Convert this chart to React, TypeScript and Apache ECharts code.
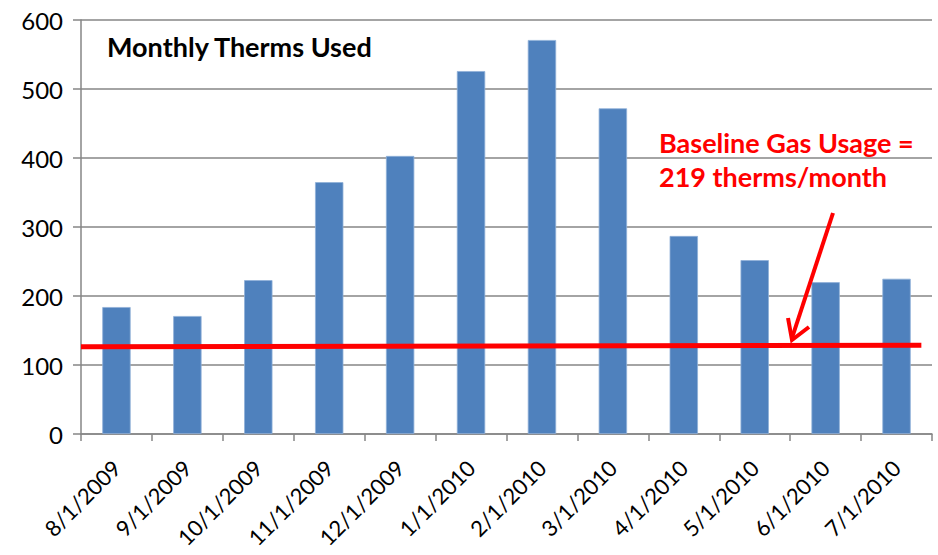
import React, { useEffect, useRef } from "react";
import * as echarts from "echarts";

const categories = [
  "8/1/2009", "9/1/2009", "10/1/2009", "11/1/2009", "12/1/2009", "1/1/2010",
  "2/1/2010", "3/1/2010", "4/1/2010", "5/1/2010", "6/1/2010", "7/1/2010",
];
const therms = [184, 171, 223, 365, 403, 526, 571, 472, 287, 252, 220, 225];
const baselineLine: [number, number][] = [[0, 126.5], [11.85, 128.5]];
const yTicks = { min: 0, max: 600, interval: 100 };
const titleText = "Monthly Therms Used";
const noteLines = ["Baseline Gas Usage =", "219 therms/month"];

const FONT = "Lato, 'Liberation Sans', sans-serif";

export default function App() {
  const ref = useRef<HTMLDivElement>(null);
  useEffect(() => {
    if (!ref.current) return;
    const chart = echarts.init(ref.current, undefined, { renderer: "svg" });
    const gray = "#868686";
    chart.setOption({
      animation: false,
      backgroundColor: "#ffffff",
      textStyle: { fontFamily: FONT },
      grid: { left: 81, right: 6, top: 20, bottom: 121, containLabel: false },
      xAxis: [
        {
          type: "category",
          data: categories,
          axisLine: { show: true, lineStyle: { color: gray, width: 1.5 } },
          axisTick: { show: true, length: 7, lineStyle: { color: gray, width: 1.5 }, alignWithLabel: false },
          axisLabel: { rotate: 45, fontSize: 22, color: "#000", margin: 30, fontFamily: FONT, interval: 0 },
          splitLine: { show: false },
        },
        { type: "value", min: 0, max: 12, show: false },
      ],
      yAxis: {
        type: "value",
        min: yTicks.min,
        max: yTicks.max,
        interval: yTicks.interval,
        axisLine: { show: true, lineStyle: { color: gray, width: 1.5 } },
        axisTick: { show: true, length: 8, lineStyle: { color: gray, width: 1.5 } },
        axisLabel: { fontSize: 24, color: "#000", margin: 18, fontFamily: FONT },
        splitLine: { show: true, lineStyle: { color: gray, width: 1.5 } },
      },
      series: [
        {
          type: "bar",
          data: therms,
          barWidth: "40%",
          itemStyle: { color: "#4F81BD", borderColor: "#8fb0d8", borderWidth: 0.8 },
        },
        {
          type: "line",
          xAxisIndex: 1,
          data: baselineLine,
          symbol: "none",
          lineStyle: { color: "#FF0000", width: 5 },
          z: 5,
        },
      ],
      graphic: [
        {
          type: "text",
          left: 107,
          top: 33,
          style: { text: titleText, fontSize: 27, fontWeight: "bold", fill: "#000", fontFamily: FONT },
        },
        {
          type: "text",
          left: 659,
          top: 125,
          style: {
            text: noteLines.join("\n"),
            fontSize: 27,
            lineHeight: 34,
            fontWeight: "bold",
            fill: "#FF0000",
            fontFamily: FONT,
          },
        },
        {
          type: "line",
          shape: { x1: 833, y1: 213, x2: 792, y2: 338 },
          style: { stroke: "#FF0000", lineWidth: 4 },
          z: 10,
        },
        {
          type: "polyline",
          shape: { points: [[788, 318], [792, 340], [809, 327]] },
          style: { stroke: "#FF0000", lineWidth: 4, fill: "none" },
          z: 10,
        },
      ],
    });
    return () => chart.dispose();
  }, []);
  return (
    <div
      ref={ref}
      style={{ position: "absolute", left: 0, top: 0, width: 938, height: 555 }}
    />
  );
}
